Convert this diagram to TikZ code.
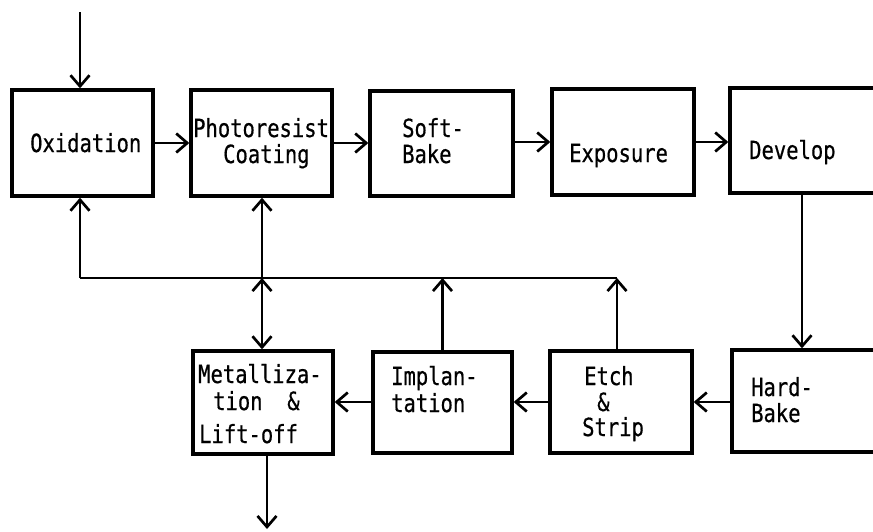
\documentclass[tikz,border=0pt]{standalone}
\usepackage{fontspec}
\newfontfamily\typew[FakeStretch=0.82,FakeBold=0.6]{DejaVu Sans Mono}
\usetikzlibrary{arrows.meta}
\begin{document}
\begin{tikzpicture}[x=1pt,y=-1pt,
  box/.style={draw, line width=3.4pt, rectangle, inner sep=0pt},
  lbl/.style={font=\typew\fontsize{25}{28}\selectfont, inner sep=0pt, anchor=base west},
  conn/.style={line width=2.7pt},
  arr/.style={conn, -{Straight Barb[length=11pt,width=19pt]}},
  darr/.style={conn, {Straight Barb[length=11pt,width=19pt]}-{Straight Barb[length=11pt,width=19pt]}}
  ]
\useasboundingbox (0,0) rectangle (873,531);
\clip (0,0) rectangle (873,531);
% boxes
\node[box, minimum width=141pt, minimum height=106pt] (ox) at (82.5,143) {};
\node[box, minimum width=141pt, minimum height=106pt] (pr) at (261.5,143) {};
\node[box, minimum width=143pt, minimum height=105pt] (sb) at (441.5,143.5) {};
\node[box, minimum width=142pt, minimum height=106pt] (ex) at (623,142) {};
\node[box, minimum width=170pt, minimum height=105pt] (dv) at (815,140.5) {};
\node[box, minimum width=168pt, minimum height=102pt] (hb) at (816,401) {};
\node[box, minimum width=142pt, minimum height=102pt] (es) at (621,402) {};
\node[box, minimum width=139pt, minimum height=101pt] (im) at (442.5,402.5) {};
\node[box, minimum width=140pt, minimum height=103pt] (mt) at (263,402.5) {};
% labels
\node[lbl] (tox) at (30,152) {Oxidation};
\node[lbl] (tpr1) at (193,137) {Photoresist};
\node[lbl] (tpr2) at (223,163) {Coating};
\node[lbl] (tsb1) at (402,137) {Soft-};
\node[lbl] (tsb2) at (402,163) {Bake};
\node[lbl] (tex) at (569,162) {Exposure};
\node[lbl] (tdv) at (749,159) {Develop};
\node[lbl] (tmt1) at (198,383) {Metalliza-};
\node[lbl] (tmt2) at (213,410) {tion\ \ \&};
\node[lbl] (tmt3) at (199,443) {Lift-off};
\node[lbl] (tim1) at (391,385) {Implan-};
\node[lbl] (tim2) at (391,412) {tation};
\node[lbl] (tes1) at (584,385) {Etch};
\node[lbl] (tes2) at (597,411) {\&};
\node[lbl] (tes3) at (582,436) {Strip};
\node[lbl] (thb1) at (751,396) {Hard-};
\node[lbl] (thb2) at (751,422) {Bake};
% coordinates
\coordinate (in) at (80,12);
\coordinate (fb0) at (80,278);
\coordinate (fj) at (262,278);
\coordinate (fx3) at (617,278);
\coordinate (dvx) at (802,0);
\coordinate (r2) at (0,402);
\coordinate (out) at (267,529);
% top row
\draw[arr] (in) -- (in |- ox.north);
\draw[arr] (ox.east) -- (ox.east -| pr.west);
\draw[arr] (pr.east) -- (pr.east -| sb.west);
\draw[arr] (sb.east |- ex.east) -- (ex.west);
\draw[arr] (ex.east) -- (ex.east -| dv.west);
\draw[arr] (dv.south -| dvx) -- (hb.north -| dvx);
% bottom row
\draw[arr] (hb.west |- r2) -- (es.east |- r2);
\draw[arr] (es.west |- r2) -- (im.east |- r2);
\draw[arr] (im.west |- r2) -- (mt.east |- r2);
% feedback
\draw[conn] (fb0) -- (fx3);
\draw[arr] (es.north -| fx3) -- (fx3);
\draw[arr] (im.north) -- (im.north |- fj);
\draw[arr] (fb0) -- (fb0 |- ox.south);
\draw[arr] (fj) -- (pr.south -| fj);
\draw[darr] (mt.north -| fj) -- (fj);
\draw[arr] (mt.south -| out) -- (out);
\end{tikzpicture}
\end{document}
